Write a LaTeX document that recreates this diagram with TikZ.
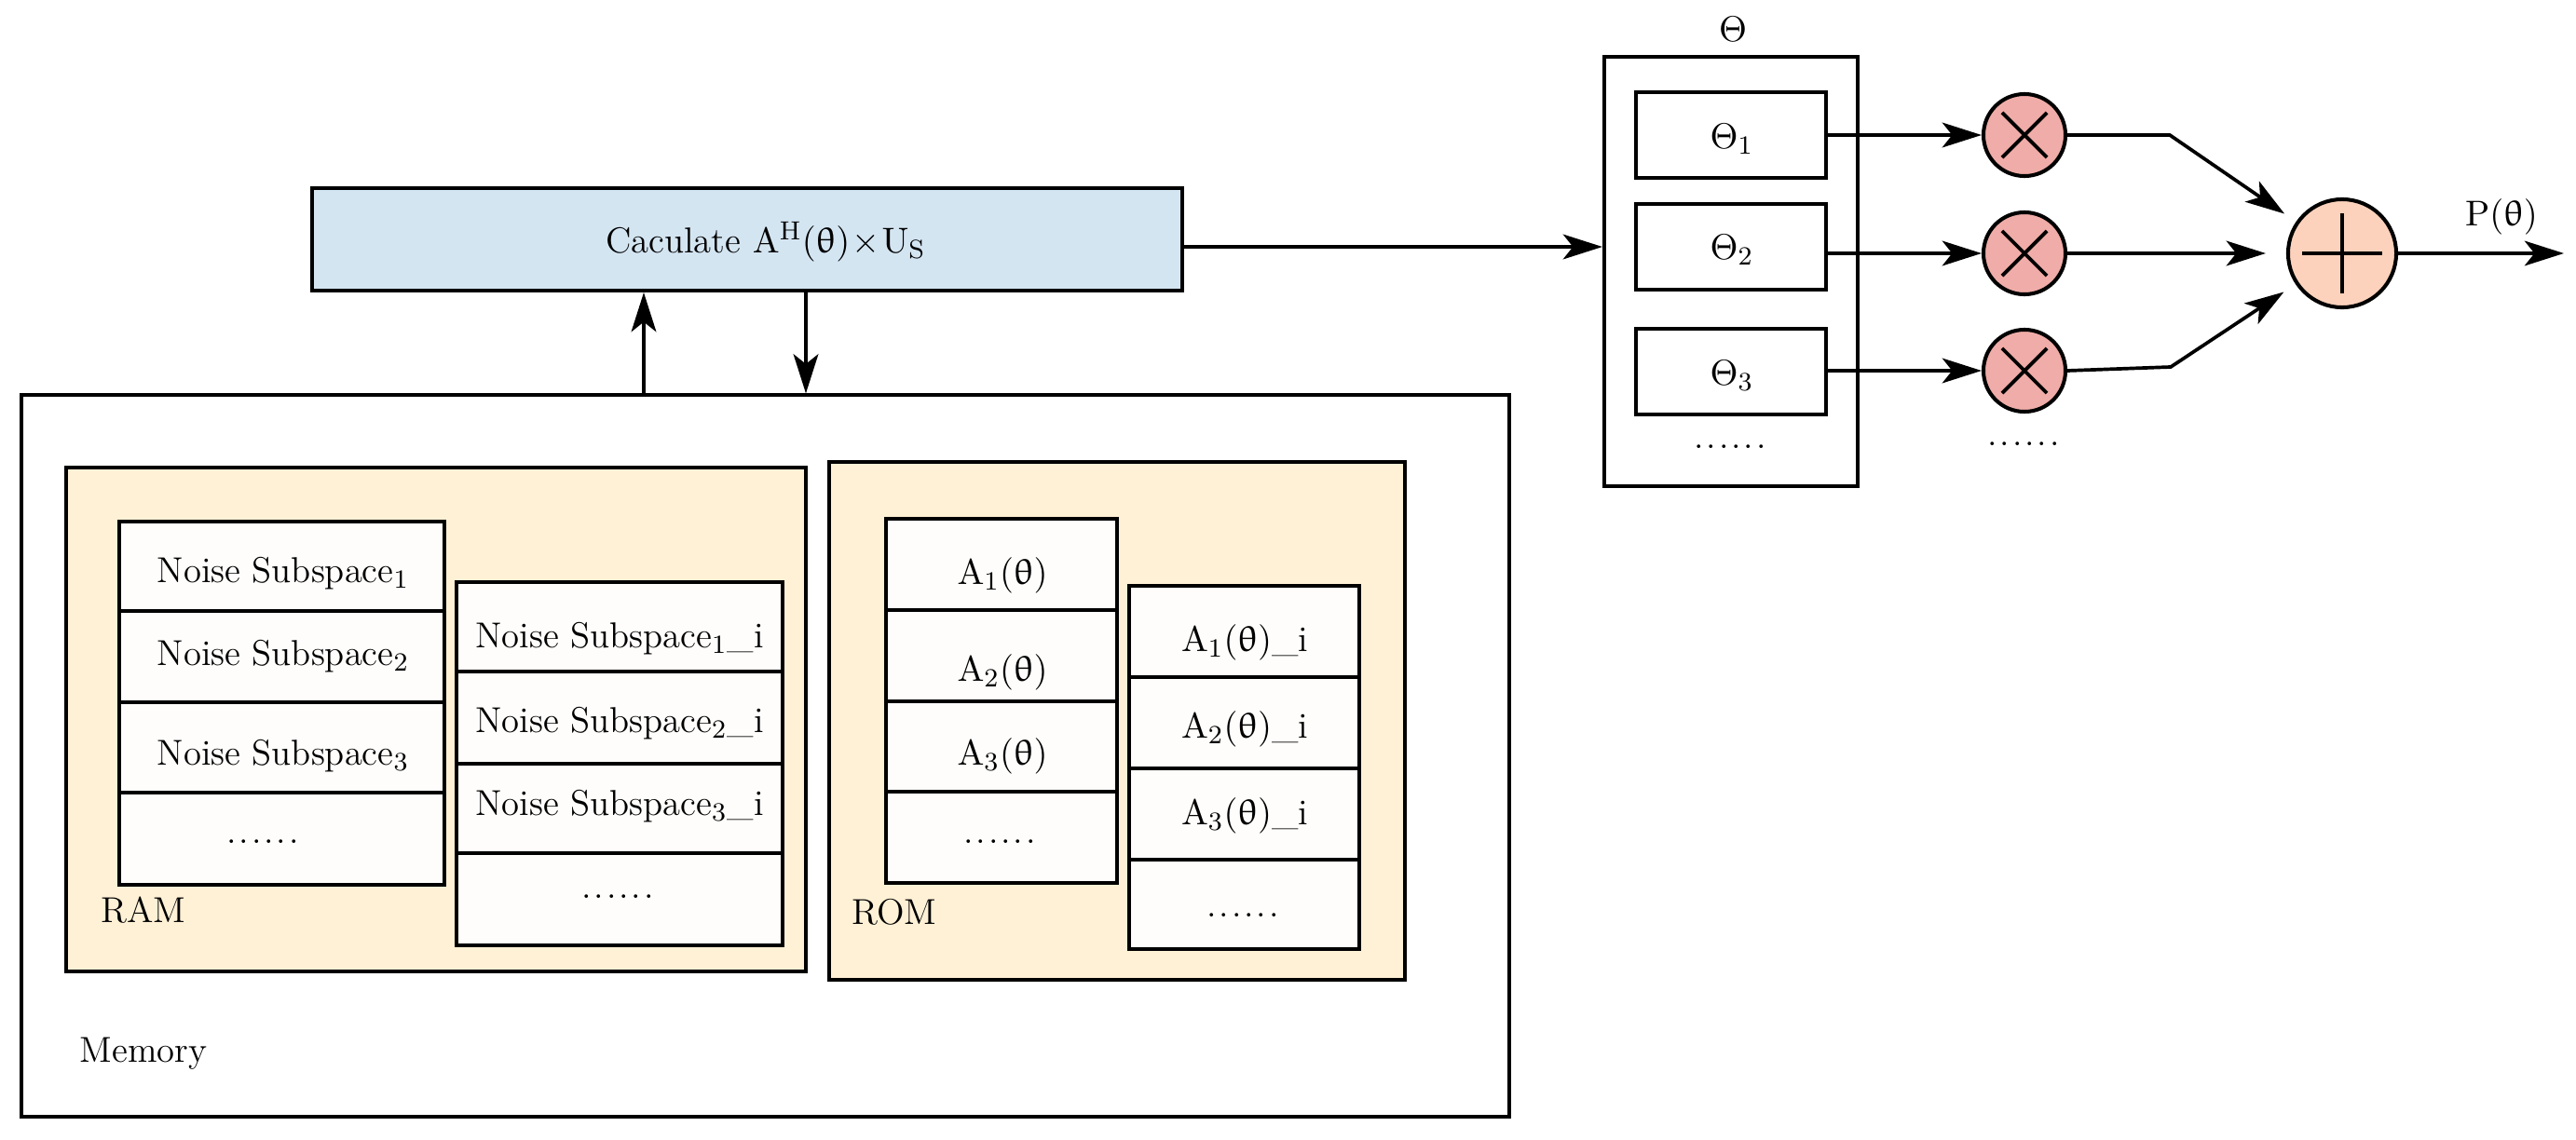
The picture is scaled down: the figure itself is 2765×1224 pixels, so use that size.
\documentclass[tikz,border=0pt]{standalone}
\usepackage{upgreek}
\usetikzlibrary{fit,arrows.meta}
\definecolor{calcblue}{RGB}{212,229,242}
\definecolor{memfill}{RGB}{255,241,214}
\definecolor{mulfill}{RGB}{240,172,168}
\definecolor{sumfill}{RGB}{253,210,188}
\definecolor{cellfill}{RGB}{254,253,251}
\newcommand\sixdots{.\kern0.8pt.\kern0.8pt.\kern0.8pt.\kern0.8pt.\kern0.8pt.}
\tikzset{
  box/.style={draw, line width=1.15pt, inner sep=0pt},
  thinbox/.style={draw, line width=0.9pt, inner sep=0pt},
  cellbox/.style={box, fill=cellfill},
  txt/.style={inner sep=0pt, font=\fontsize{11}{13}\selectfont},
  arr/.style={line width=1.05pt, -{Stealth[length=12pt,width=7.6pt,inset=3pt]}},
  ln/.style={line width=1.05pt},
  mulnode/.style={circle, draw, line width=1.15pt, fill=mulfill, minimum size=0.88cm, inner sep=0pt,
    path picture={\draw[line width=1.1pt]
      ([shift={(-0.24cm,-0.24cm)}]path picture bounding box.center) -- ([shift={(0.24cm,0.24cm)}]path picture bounding box.center)
      ([shift={(-0.24cm,0.24cm)}]path picture bounding box.center) -- ([shift={(0.24cm,-0.24cm)}]path picture bounding box.center);}},
  sumnode/.style={circle, draw, line width=1.15pt, fill=sumfill, minimum size=1.16cm, inner sep=0pt,
    path picture={\draw[line width=1.05pt]
      ([xshift=-0.43cm]path picture bounding box.center) -- ([xshift=0.43cm]path picture bounding box.center)
      ([yshift=-0.43cm]path picture bounding box.center) -- ([yshift=0.43cm]path picture bounding box.center);}},
}
\begin{document}
\begin{tikzpicture}[x=0.01cm, y=-0.01cm]
\useasboundingbox (0,0) rectangle (2765,1224);

% calculation box
\node[box, fill=calcblue, fit={(335,202) (1269,312)}] (calc) {};
\node[txt] (calctxt) at (822,260) {Caculate $\mathrm{A}^{\mathrm{H}}(\uptheta)\!\times\!\mathrm{U}_{\mathrm{S}}$};

% memory
\node[thinbox, fit={(23,424) (1620,1199)}] (mem) {};
\node[txt] (memlbl) at (154,1131) {Memory};

% RAM
\node[box, fill=memfill, fit={(71,502) (865,1043)}] (ram) {};
\node[txt] (ramlbl) at (154,977) {RAM};
\node[cellbox, fit={(128,560) (477,656)}] (ra1) {};
\node[cellbox, fit={(128,656) (477,754)}] (ra2) {};
\node[cellbox, fit={(128,754) (477,851)}] (ra3) {};
\node[cellbox, fit={(128,851) (477,950)}] (ra4) {};
\node[txt] (tra1) at (304,616) {Noise Subspace$_1$};
\node[txt] (tra2) at (304,705) {Noise Subspace$_2$};
\node[txt] (tra3) at (304,812) {Noise Subspace$_3$};
\node[txt] (tra4) at (282,904) {\sixdots};
\node[cellbox, fit={(490,625) (840,721)}] (rb1) {};
\node[cellbox, fit={(490,721) (840,820)}] (rb2) {};
\node[cellbox, fit={(490,820) (840,916)}] (rb3) {};
\node[cellbox, fit={(490,916) (840,1015)}] (rb4) {};
\node[txt] (trb1) at (665,686) {Noise Subspace$_1$\_i};
\node[txt] (trb2) at (665,777) {Noise Subspace$_2$\_i};
\node[txt] (trb3) at (665,866) {Noise Subspace$_3$\_i};
\node[txt] (trb4) at (663,963) {\sixdots};

% ROM
\node[box, fill=memfill, fit={(890,496) (1508,1052)}] (rom) {};
\node[txt] (romlbl) at (960,979) {ROM};
\node[cellbox, fit={(951,557) (1199,655)}] (oa1) {};
\node[cellbox, fit={(951,655) (1199,753)}] (oa2) {};
\node[cellbox, fit={(951,753) (1199,850)}] (oa3) {};
\node[cellbox, fit={(951,850) (1199,948)}] (oa4) {};
\node[txt] (toa1) at (1076,618) {$\mathrm{A}_1(\uptheta)$};
\node[txt] (toa2) at (1076,722) {$\mathrm{A}_2(\uptheta)$};
\node[txt] (toa3) at (1076,812) {$\mathrm{A}_3(\uptheta)$};
\node[txt] (toa4) at (1073,904) {\sixdots};
\node[cellbox, fit={(1212,629) (1459,727)}] (ob1) {};
\node[cellbox, fit={(1212,727) (1459,825)}] (ob2) {};
\node[cellbox, fit={(1212,825) (1459,923)}] (ob3) {};
\node[cellbox, fit={(1212,923) (1459,1019)}] (ob4) {};
\node[txt] (tob1) at (1336,690) {$\mathrm{A}_1(\uptheta)$\_i};
\node[txt] (tob2) at (1336,783) {$\mathrm{A}_2(\uptheta)$\_i};
\node[txt] (tob3) at (1336,876) {$\mathrm{A}_3(\uptheta)$\_i};
\node[txt] (tob4) at (1334,983) {\sixdots};

% arrows calc <-> memory
\coordinate (upx) at (691,312);
\coordinate (dnx) at (865,312);
\draw[arr] (mem.north -| upx) -- (calc.south -| upx);
\draw[arr] (calc.south -| dnx) -- (mem.north -| dnx);

% Theta block
\node[box, fit={(1722,61) (1994,522)}] (thbox) {};
\node[txt] (thlbl) at (1860,31) {$\Theta$};
\node[box, fit={(1756,99) (1960,191)}] (th1) {};
\node[box, fit={(1756,219) (1960,311)}] (th2) {};
\node[box, fit={(1756,353) (1960,445)}] (th3) {};
\node[txt] (tth1) at (1859,149) {$\Theta_1$};
\node[txt] (tth2) at (1859,268) {$\Theta_2$};
\node[txt] (tth3) at (1859,403) {$\Theta_3$};
\node[txt] (thdots) at (1857,480) {\sixdots};

\draw[arr] (calc.east |- th2) -- (thbox.west |- th2);

% multipliers
\node[mulnode] (m1) at (2173,145) {};
\node[mulnode] (m2) at (2173,272) {};
\node[mulnode] (m3) at (2173,398) {};
\node[txt] (mdots) at (2172,477) {\sixdots};

\draw[arr] (th1.east |- m1) -- (m1.west);
\draw[arr] (th2.east |- m2) -- (m2.west);
\draw[arr] (th3.east |- m3) -- (m3.west);

% sum
\node[sumnode] (sum) at (2514,272) {};
\coordinate (b1) at (2329,145);
\coordinate (b3) at (2330,394);
\draw[arr, shorten >=0.15cm] (m1.east) -- (b1) -- (sum);
\draw[arr, shorten >=0.22cm] (m2.east) -- (sum.west);
\draw[arr, shorten >=0.15cm] (m3.east) -- (b3) -- (sum);

\coordinate (out) at (2752,272);
\draw[arr] (sum.east) -- (out);
\node[txt] (plbl) at (2685,233) {$\mathrm{P}(\uptheta)$};
\end{tikzpicture}
\end{document}
